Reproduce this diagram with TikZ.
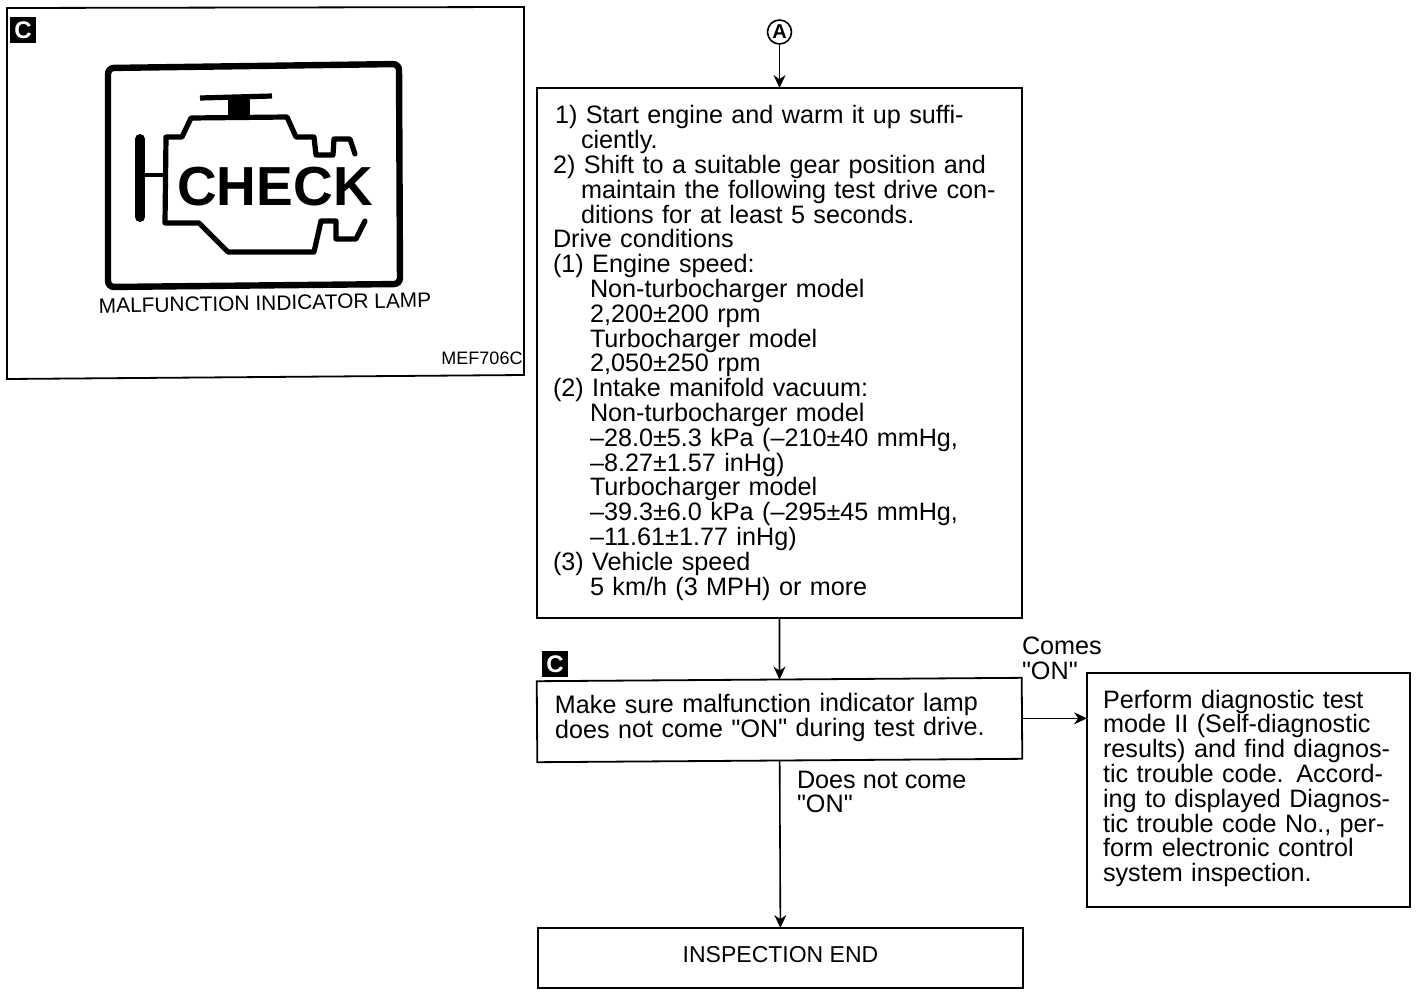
\documentclass[tikz,border=0pt]{standalone}
\usepackage{fontspec}
\usetikzlibrary{arrows.meta}
\setmainfont{Liberation Sans}[Ligatures=TeXOff]
\newcommand{\hangA}{\hspace*{14pt}}
\newcommand{\hangB}{\hspace*{18.5pt}}
\newcommand{\bodyfont}{\fontsize{12.6}{12.4}\selectfont}
\tikzset{
  flowbox/.style={draw, line width=0.9pt, rectangle, inner sep=0pt, outer sep=0pt, font=\bodyfont, align=left},
  plaintext/.style={inner sep=0pt, outer sep=0pt, font=\bodyfont, align=left},
  badge/.style={fill=black, text=white, minimum size=13pt, inner sep=0pt, outer sep=0pt, font=\fontsize{12}{12}\selectfont\bfseries},
  flowarrow/.style={->, line width=0.8pt},
  engineline/.style={line width=2.6pt, line join=round, line cap=round}
}
\begin{document}
\begin{tikzpicture}[x=0.5pt, y=-0.5pt, >={Stealth[length=6.5pt,width=6pt]}]
  \useasboundingbox (0,0) rectangle (1424,996);
  \draw[line width=0.9pt] (7,8) -- (524,7) -- (524,375) -- (7,379) -- cycle;
  \node[badge] (badgeLamp) at (23,30) {C};
  \draw[line width=3.2pt, rounded corners=3pt] (108,68) -- (399,64) -- (400,284) -- (108,287) -- cycle;
  \draw[engineline] (355,154) -- (350,139) -- (334,139) -- (333,155) -- (316,155) -- (314,137) -- (296,137) -- (287,117) -- (191,118) -- (182,137) -- (166,137) -- (165,223) -- (199,223) -- (228,252) -- (314,252) -- (321,221) -- (336,221) -- (336,239) -- (356,239) -- (365,221);
  \draw[line width=5pt, line cap=round] (140,139) -- (140,217);
  \draw[line width=1.6pt] (145,175) -- (165,175);
  \draw[line width=2.6pt] (200,98) -- (272,96);
  \fill (228,98) rectangle (250,116);
  \node[inner sep=0pt, font=\fontsize{27.5}{27.5}\selectfont\bfseries] (checkText) at (275,187) {CHECK};
  \node[plaintext, font=\fontsize{10.45}{10.45}\selectfont, rotate=1] (lampText) at (265,303) {MALFUNCTION INDICATOR LAMP};
  \node[plaintext, font=\fontsize{9}{9}\selectfont] (figCode) at (482,358) {MEF706C};

  \node[circle, draw, line width=0.8pt, inner sep=0pt, minimum size=12pt, outer sep=0pt, font=\fontsize{10}{10}\selectfont\bfseries] (startA) at (779.5,32) {A};
  \node[flowbox, text width=226.5pt, inner xsep=8pt, minimum height=265pt] (driveBox) at (779.5,353) {%
    \hspace*{1pt}1) Start engine and warm it up suffi-\\
    \hangA ciently.\\
    2) Shift to a suitable gear position and\\
    \hangA maintain the following test drive con-\\
    \hangA ditions for at least 5 seconds.\\
    Drive conditions\\
    (1) Engine speed:\\
    \hangB Non-turbocharger model\\
    \hangB 2,200±200 rpm\\
    \hangB Turbocharger model\\
    \hangB 2,050±250 rpm\\
    (2) Intake manifold vacuum:\\
    \hangB Non-turbocharger model\\
    \hangB –28.0±5.3 kPa (–210±40 mmHg,\\
    \hangB –8.27±1.57 inHg)\\
    \hangB Turbocharger model\\
    \hangB –39.3±6.0 kPa (–295±45 mmHg,\\
    \hangB –11.61±1.77 inHg)\\
    (3) Vehicle speed\\
    \hangB 5 km/h (3 MPH) or more};
  \node[badge] (badgeCheck) at (555,664) {C};
  \node[flowbox, text width=224.5pt, inner xsep=9pt, minimum height=40.5pt, text depth=17pt, rotate=0.4] (lampBox) at (779.5,720) {%
    Make sure malfunction indicator lamp\\
    does not come "ON" during test drive.};
  \node[flowbox, text width=145.5pt, inner xsep=8pt, minimum height=117pt, text depth=91pt] (diagBox) at (1248.5,790) {%
    Perform diagnostic test\\
    mode II (Self-diagnostic\\
    results) and find diagnos-\\
    tic trouble code. Accord-\\
    ing to displayed Diagnos-\\
    tic trouble code No., per-\\
    form electronic control\\
    system inspection.};
  \node[flowbox, minimum width=242.5pt, minimum height=30pt, align=center, font=\fontsize{11.5}{12}\selectfont, text depth=4pt] (endBox) at (780.5,958) {INSPECTION END};
  \node[plaintext, anchor=west] (comesOn) at (1022,658) {Comes\\"ON"};
  \node[plaintext, anchor=west] (notComesOn) at (797,792) {Does not come\\"ON"};

  \draw[flowarrow] (startA) -- (driveBox);
  \draw[flowarrow] (driveBox) -- (lampBox);
  \draw[flowarrow] (lampBox.east) -- (lampBox.east -| diagBox.west);
  \draw[flowarrow] (lampBox) -- (endBox);
\end{tikzpicture}
\end{document}
